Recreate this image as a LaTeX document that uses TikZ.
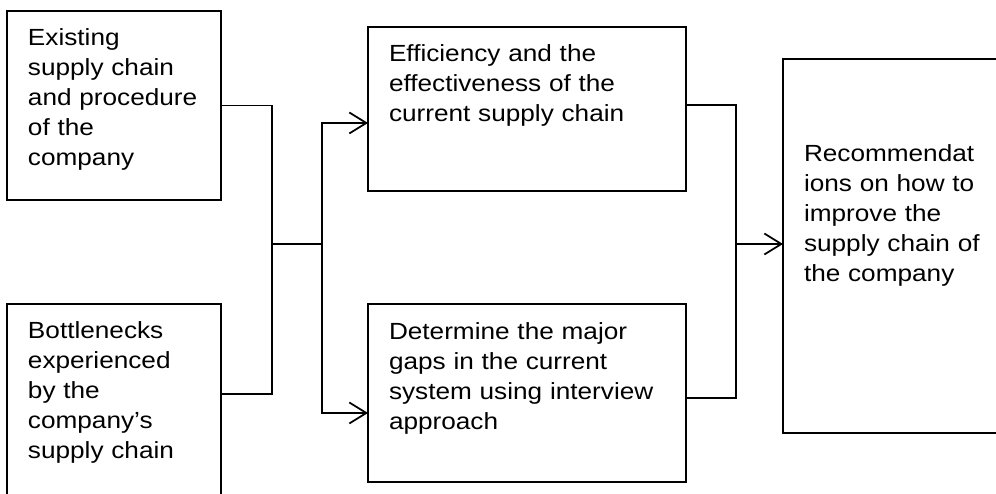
\documentclass[tikz,border=0pt]{standalone}
\usepackage{fontspec}
\setmainfont[FakeStretch=1.12]{Liberation Sans}
\usetikzlibrary{arrows.meta}

\begin{document}
\begin{tikzpicture}
	  [
	    x                       = 0.02cm,
	    y                       = -0.02cm,
	    line width              = 1pt,
	    every node/.style       = {font=\fontsize{13.3}{17.07}\selectfont},
	    stage/.style            = {draw, rectangle, anchor=north west, align=left,
	                               inner xsep=0.42cm, inner ysep=0pt, outer sep=0pt},
	    link/.style             = {draw},
	    feed/.style             = {draw, -{Straight Barb[length=3.4mm,width=4.2mm]}}
	  ]
	  \path[use as bounding box, clip] (0,0) rectangle (996,493);

	  % inputs
	  \node [stage, text width=3.44cm, text height=0.7cm, text depth=3.08cm] (existing) at (7,11)
	  	{Existing\\supply chain\\and procedure\\of the\\company};
	  \node [stage, text width=3.44cm, text height=0.7cm, text depth=3.3cm] (bottlenecks) at (7,304)
	  	{Bottlenecks\\experienced\\by the\\company’s\\supply chain};

	  % analysis
	  \node [stage, text width=5.52cm, text height=0.7cm, text depth=2.58cm] (efficiency) at (368,27)
	  	{Efficiency and the\\effectiveness of the\\current supply chain};
	  \node [stage, text width=5.52cm, text height=0.72cm, text depth=2.84cm] (gaps) at (368,304)
	  	{Determine the major\\gaps in the current\\system using interview\\approach};

	  % output
	  \node [stage, text width=3.76cm, text height=2.06cm, text depth=5.42cm] (recommend) at (783,59)
	  	{Recommendat\\ions on how to\\improve the\\supply chain of\\the company};

	  \coordinate (join)  at (272,244);
	  \coordinate (split) at (322,244);
	  \coordinate (merge) at (736,244);

	  \draw [link] (existing.east) -| (join);
	  \draw [link] ([yshift=-1.8cm]bottlenecks.north east) -| (join);
	  \draw [link] (join) -- (split);
	  \draw [feed] (split) |- ([yshift=-1.92cm]efficiency.north west);
	  \draw [feed] (split) |- ([yshift=-2.18cm]gaps.north west);
	  \draw [link] ([yshift=-1.56cm]efficiency.north east) -| (merge);
	  \draw [link] ([yshift=-1.88cm]gaps.north east) -| (merge);
	  \draw [feed] (merge) -- (merge -| recommend.west);
\end{tikzpicture}
\end{document}
